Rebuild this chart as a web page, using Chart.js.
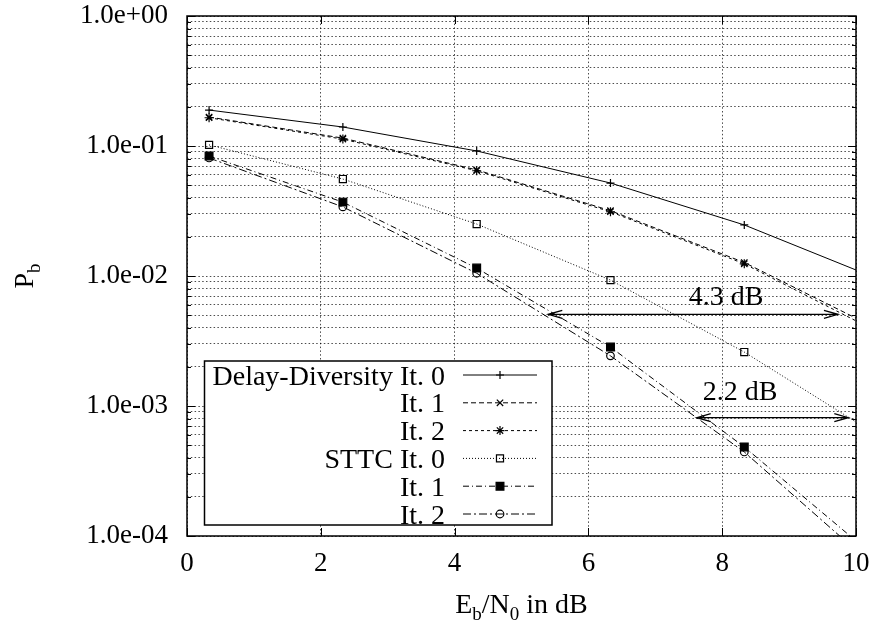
<!DOCTYPE html>
<html>
<head>
<meta charset="utf-8">
<script src="https://cdn.jsdelivr.net/npm/chart.js@4.4.0/dist/chart.umd.min.js"></script>
<style>
  html, body { margin: 0; padding: 0; background: #fff; }
  canvas { display: block; }
</style>
</head>
<body>
<canvas id="berChart" width="875" height="626"></canvas>
<script>
'use strict'
// Eb/N0 in dB (last point lies past the right edge, the line runs out to the border)
var ebNo = [0.33, 2.33, 4.33, 6.33, 8.33, 10.33];
var ddIt0 = [0.189, 0.140, 0.0916, 0.0519, 0.0247, 0.0095];
var ddIt1 = [0.167, 0.115, 0.0655, 0.0318, 0.0127, 0.0039];
var ddIt2 = [0.165, 0.113, 0.0645, 0.0312, 0.0124, 0.0037];
var sttcIt0 = [0.102, 0.0557, 0.0251, 0.0093, 0.0026, 0.00059];
var sttcIt1 = [0.0838, 0.0370, 0.0115, 0.00284, 0.000484, 0.000066];
var sttcIt2 = [0.0809, 0.0340, 0.0105, 0.00243, 0.000443, 0.000055];

var legendLabels = ['Delay-Diversity It. 0', 'It. 1', 'It. 2', 'STTC It. 0', 'It. 1', 'It. 2'];

var xTickValues = [0, 2, 4, 6, 8, 10];
var xTickLabels = ['0', '2', '4', '6', '8', '10'];
var yTickValues = [1e-4, 1e-3, 1e-2, 1e-1, 1];
var yTickLabels = ['1.0e-04', '1.0e-03', '1.0e-02', '1.0e-01', '1.0e+00'];

// the two gap arrows
var gapLabels = ['4.3 dB', '2.2 dB'];
var gapFrom = [5.40, 7.62];
var gapTo = [9.73, 9.885];
var gapLevel = [0.00507, 0.000813];
var gapTextX = [7.50, 7.71];
var gapTextY = [0.0060, 0.00111];

var serif = "'Liberation Serif', 'Times New Roman', serif";

function pts(ys) {
    var out = [];
    for (let i = 0; i < ebNo.length; i++) {
        out.push({ x: ebNo[i], y: ys[i] });
    }
    return out;
}

function series(label, ys, dash, style, radius, fill) {
    return {
        label: label,
        data: pts(ys),
        borderColor: '#000',
        borderWidth: 1,
        borderDash: dash,
        pointStyle: style,
        pointRadius: radius,
        pointBorderWidth: 1.2,
        pointBorderColor: '#000',
        pointBackgroundColor: fill,
        tension: 0,
        fill: false
    };
}

var ctx = document.getElementById('berChart').getContext('2d');

var gnuExtras = {
    id: 'gnuExtras',
    afterDraw: function (chart) {
        var c = chart.ctx;
        var a = chart.chartArea;
        var xs = chart.scales.x;
        var ys = chart.scales.y;
        c.save();

        // legend box
        var bx = 204.5, by = 361, bw = 347.5, bh = 164;
        c.fillStyle = '#fff';
        c.fillRect(bx, by, bw, bh);
        c.strokeStyle = '#000';
        c.lineWidth = 1.5;
        c.strokeRect(bx, by, bw, bh);
        c.font = '28px ' + serif;
        c.textAlign = 'right';
        c.textBaseline = 'alphabetic';
        for (let i = 0; i < chart.data.datasets.length; i++) {
            var ds = chart.data.datasets[i];
            var ry = 375 + i * 27.8;
            c.fillStyle = '#000';
            c.fillText(legendLabels[i], 445, ry + 9.5);
            c.beginPath();
            c.setLineDash(ds.borderDash);
            c.lineWidth = 1;
            c.strokeStyle = '#000';
            c.moveTo(463, ry);
            c.lineTo(537, ry);
            c.stroke();
            c.setLineDash([]);
            c.fillStyle = ds.pointBackgroundColor;
            c.lineWidth = 1.2;
            Chart.helpers.drawPoint(c, { pointStyle: ds.pointStyle, radius: ds.pointRadius, rotation: 0, borderWidth: 1.2 }, 500, ry);
        }

        // gap arrows with labels
        c.strokeStyle = '#000';
        c.fillStyle = '#000';
        c.lineWidth = 1.3;
        c.textAlign = 'left';
        for (let i = 0; i < gapLabels.length; i++) {
            var x1 = xs.getPixelForValue(gapFrom[i]);
            var x2 = xs.getPixelForValue(gapTo[i]);
            var y = ys.getPixelForValue(gapLevel[i]);
            c.beginPath();
            c.moveTo(x1, y);
            c.lineTo(x2, y);
            c.moveTo(x1 + 14, y - 4);
            c.lineTo(x1, y);
            c.lineTo(x1 + 14, y + 4);
            c.moveTo(x2 - 14, y - 4);
            c.lineTo(x2, y);
            c.lineTo(x2 - 14, y + 4);
            c.stroke();
            c.fillText(gapLabels[i], xs.getPixelForValue(gapTextX[i]), ys.getPixelForValue(gapTextY[i]));
        }

        // border and inward tick marks (gnuplot mirror style)
        c.lineWidth = 1.5;
        c.strokeRect(a.left, a.top, a.right - a.left, a.bottom - a.top);
        c.lineWidth = 1;
        c.beginPath();
        ys.ticks.forEach(function (t) {
            var py = Math.round(ys.getPixelForValue(t.value)) + 0.5;
            var len = t.major ? 8 : 4;
            c.moveTo(a.left, py); c.lineTo(a.left + len, py);
            c.moveTo(a.right, py); c.lineTo(a.right - len, py);
        });
        xs.ticks.forEach(function (t) {
            var px = Math.round(xs.getPixelForValue(t.value)) + 0.5;
            c.moveTo(px, a.bottom); c.lineTo(px, a.bottom - 8);
            c.moveTo(px, a.top); c.lineTo(px, a.top + 8);
        });
        c.stroke();

        // axis titles with subscripts
        var big = '28px ' + serif;
        var small = '19px ' + serif;
        var parts = [['E', big, 0], ['b', small, 7], ['/N', big, 0], ['0', small, 7], [' in dB', big, 0]];
        var total = 0;
        parts.forEach(function (p) { c.font = p[1]; total += c.measureText(p[0]).width; });
        var tx = (a.left + a.right) / 2 - total / 2;
        c.textAlign = 'left';
        parts.forEach(function (p) {
            c.font = p[1];
            c.fillText(p[0], tx, 613 + p[2]);
            tx += c.measureText(p[0]).width;
        });

        c.translate(33, (a.top + a.bottom) / 2);
        c.rotate(-Math.PI / 2);
        c.font = big;
        var pw = c.measureText('P').width;
        c.font = small;
        var bw2 = c.measureText('b').width;
        c.font = big;
        c.fillText('P', -(pw + bw2) / 2, 0);
        c.font = small;
        c.fillText('b', -(pw + bw2) / 2 + pw, 7);
        c.restore();
    }
};

var gridStyle = { color: 'rgba(0,0,0,0.7)', lineWidth: 1, drawTicks: false };

var chart = new Chart(ctx, {
    type: 'line',
    data: {
        datasets: [
            series(legendLabels[0], ddIt0, [], 'cross', 4, 'rgba(0,0,0,0)'),
            series(legendLabels[1], ddIt1, [5, 3], 'crossRot', 4.5, 'rgba(0,0,0,0)'),
            series(legendLabels[2], ddIt2, [3, 3], 'star', 4.5, 'rgba(0,0,0,0)'),
            series(legendLabels[3], sttcIt0, [1, 2], 'rect', 5, 'rgba(0,0,0,0)'),
            series(legendLabels[4], sttcIt1, [6, 3, 1, 3], 'rect', 5.5, '#000'),
            series(legendLabels[5], sttcIt2, [8, 3, 2, 3], 'circle', 3.8, 'rgba(0,0,0,0)')
        ]
    },
    options: {
        responsive: false,
        animation: false,
        layout: { padding: { top: 16, right: 19, left: 0, bottom: 0 } },
        plugins: {
            legend: { display: false },
            tooltip: { enabled: false }
        },
        scales: {
            x: {
                type: 'linear',
                min: 0,
                max: 10,
                afterFit: function (s) {
                    s.height = 90;
                    s.paddingLeft = 0;
                    s.paddingRight = 0;
                },
                afterBuildTicks: function (s) {
                    s.ticks = xTickValues.map(function (v) { return { value: v }; });
                },
                ticks: {
                    autoSkip: false,
                    maxRotation: 0,
                    padding: 12,
                    color: '#000',
                    font: { family: serif, size: 27 },
                    callback: function (v) {
                        var i = xTickValues.indexOf(v);
                        return i >= 0 ? xTickLabels[i] : '';
                    }
                },
                grid: gridStyle,
                border: { display: false, dash: [1.5, 2.3] }
            },
            y: {
                type: 'logarithmic',
                min: 1e-4,
                max: 1,
                afterFit: function (s) {
                    s.width = 187;
                    s.paddingTop = 0;
                    s.paddingBottom = 0;
                },
                afterBuildTicks: function (s) {
                    var t = [];
                    for (let d = 0; d < yTickValues.length - 1; d++) {
                        for (let m = 1; m <= 9; m++) {
                            t.push({ value: m === 1 ? yTickValues[d] : m * yTickValues[d], major: m === 1 });
                        }
                    }
                    t.push({ value: yTickValues[yTickValues.length - 1], major: true });
                    s.ticks = t;
                },
                ticks: {
                    autoSkip: false,
                    padding: 19,
                    color: '#000',
                    font: { family: serif, size: 27 },
                    callback: function (v) {
                        var i = yTickValues.indexOf(v);
                        return i >= 0 ? yTickLabels[i] : '';
                    }
                },
                grid: gridStyle,
                border: { display: false, dash: [1.5, 2.3] }
            }
        }
    },
    plugins: [gnuExtras]
});
</script>
</body>
</html>
